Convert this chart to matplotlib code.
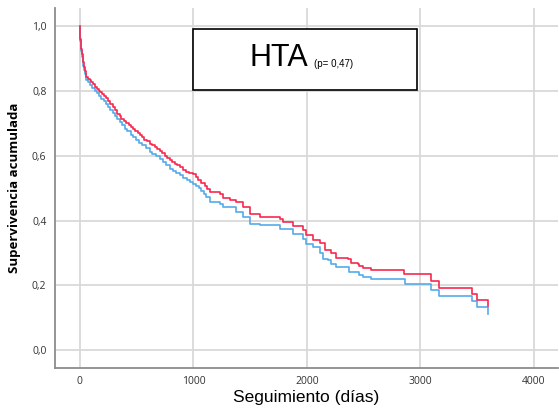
import numpy as np
import matplotlib.pyplot as plt
from matplotlib.ticker import FuncFormatter

# Kaplan-Meier knots (days, cumulative survival)
t_red = [0, 3, 6, 10, 15, 20, 25, 30, 38, 45, 52, 59, 70, 88, 100, 117, 135, 150,
         165, 176, 195, 210, 230, 249, 270, 290, 310, 330, 350, 367, 390, 410, 430,
         450, 469, 490, 510, 530, 550, 570, 590, 616, 640, 660, 680, 704, 725, 750,
         770, 792, 815, 840, 860, 880, 910, 938, 965, 997, 1020, 1040, 1070, 1099,
         1120, 1143, 1231, 1260, 1320, 1378, 1436, 1495, 1583, 1759, 1788, 1876,
         1964, 1993, 2052, 2111, 2155, 2214, 2257, 2360, 2389, 2448, 2463, 2492,
         2565, 2858, 3093, 3166, 3453, 3494, 3591]
s_red = [1.0, 0.98, 0.96, 0.945, 0.93, 0.915, 0.90, 0.888, 0.873, 0.86, 0.85, 0.842,
         0.838, 0.832, 0.828, 0.822, 0.813, 0.807, 0.80, 0.796, 0.789, 0.783, 0.777,
         0.770, 0.760, 0.750, 0.740, 0.730, 0.722, 0.714, 0.707, 0.700, 0.695,
         0.689, 0.683, 0.677, 0.670, 0.663, 0.657, 0.650, 0.645, 0.637, 0.632,
         0.627, 0.622, 0.616, 0.608, 0.600, 0.593, 0.586, 0.580, 0.575, 0.570,
         0.565, 0.557, 0.549, 0.546, 0.544, 0.533, 0.524, 0.516, 0.508, 0.498,
         0.488, 0.483, 0.470, 0.462, 0.457, 0.441, 0.421, 0.411, 0.406, 0.395,
         0.382, 0.370, 0.354, 0.339, 0.331, 0.308, 0.300, 0.285, 0.282, 0.269,
         0.265, 0.259, 0.254, 0.247, 0.234, 0.213, 0.193, 0.175, 0.154, 0.136]

t_blue = [0, 3, 6, 10, 15, 20, 25, 30, 38, 45, 52, 59, 70, 88, 110, 132, 150, 170,
          191, 210, 230, 249, 270, 290, 308, 330, 350, 370, 396, 420, 450, 470, 495,
          520, 550, 580, 616, 640, 670, 704, 730, 760, 792, 820, 850, 880, 910, 940,
          967, 1000, 1026, 1050, 1070, 1090, 1114, 1143, 1231, 1260, 1378, 1436,
          1495, 1583, 1759, 1876, 1964, 1993, 2052, 2111, 2146, 2184, 2214, 2257,
          2375, 2463, 2492, 2565, 2867, 3093, 3166, 3453, 3494, 3591]
s_blue = [1.0, 0.975, 0.955, 0.94, 0.924, 0.905, 0.89, 0.878, 0.863, 0.851, 0.84,
          0.832, 0.826, 0.817, 0.809, 0.801, 0.793, 0.785, 0.776, 0.768, 0.759,
          0.750, 0.741, 0.732, 0.724, 0.714, 0.705, 0.695, 0.683, 0.675, 0.665,
          0.658, 0.649, 0.640, 0.632, 0.625, 0.611, 0.606, 0.600, 0.591, 0.582,
          0.571, 0.560, 0.553, 0.546, 0.539, 0.532, 0.525, 0.519, 0.514, 0.508,
          0.499, 0.490, 0.481, 0.472, 0.457, 0.452, 0.441, 0.426, 0.411, 0.390,
          0.385, 0.375, 0.360, 0.344, 0.329, 0.318, 0.300, 0.282, 0.277, 0.267,
          0.257, 0.241, 0.231, 0.226, 0.219, 0.205, 0.187, 0.166, 0.151, 0.132,
          0.111]

xticks = [0, 1000, 2000, 3000, 4000]
yticks = [0.0, 0.2, 0.4, 0.6, 0.8, 1.0]

fig = plt.figure(figsize=(5.59, 4.09), dpi=100)
ax = fig.add_axes([0.098, 0.10, 0.90, 0.88])

ax.plot(t_blue, s_blue, drawstyle='steps-post', color='#55aaea', lw=1.2)
ax.plot(t_red, s_red, drawstyle='steps-post', color='#f7294f', lw=1.2)

ax.set_xlim(-220, 4210)
ax.set_ylim(-0.055, 1.055)
ax.set_xticks(xticks)
ax.set_yticks(yticks)
ax.yaxis.set_major_formatter(FuncFormatter(lambda v, p: ('%.1f' % v).replace('.', ',')))
ax.grid(True, color='#d9d9d9', lw=1.3)
ax.set_axisbelow(True)
ax.tick_params(length=0, labelsize=7.5, labelcolor='#333333', pad=6,
               labelfontfamily='Open Sans')
for s in ['top', 'right']:
    ax.spines[s].set_visible(False)
for s in ['left', 'bottom']:
    ax.spines[s].set_color('#8c8c8c')
    ax.spines[s].set_linewidth(1.3)

ax.set_ylabel('Supervivencia acumulada', fontsize=9.5, fontweight='bold',
              family='Open Sans', labelpad=8)
ax.set_xlabel('Seguimiento (días)', fontsize=12.5, family='Liberation Sans', labelpad=2)

# title box
ax.add_patch(plt.Rectangle((1000, 0.804), 1970, 0.186, fill=True, facecolor='white',
                           edgecolor='black', lw=1.2, zorder=3))
ax.text(2010, 0.901, 'HTA', fontsize=22, family='Liberation Sans', ha='right',
        va='center', zorder=4)
ax.text(2065, 0.882, '(p= 0,47)', fontsize=7, family='Liberation Sans', ha='left',
        va='center', zorder=4)

fig.savefig('out.png', dpi=100)
